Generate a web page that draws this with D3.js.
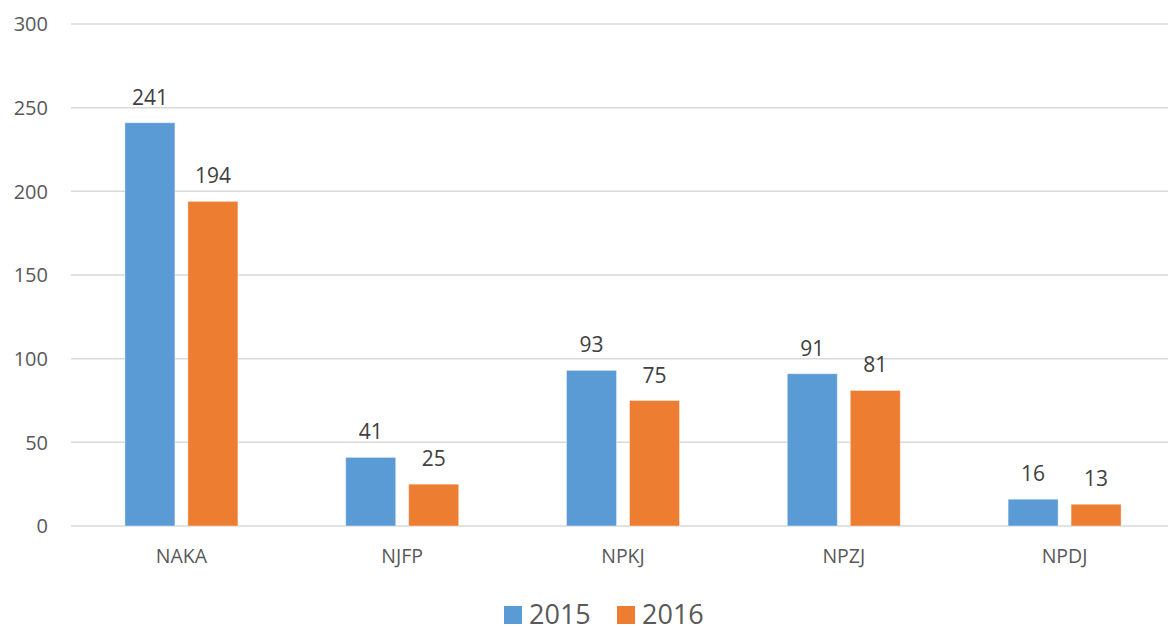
<!DOCTYPE html>
<html>
<head>
<meta charset="utf-8">
<script src="https://cdn.jsdelivr.net/npm/d3@7"></script>
<style>
  html, body { margin: 0; padding: 0; background: #fff; }
  svg { display: block; font-family: "Open Sans", sans-serif; }
</style>
</head>
<body>
<script>
// chart data
var categories = ["NAKA", "NJFP", "NPKJ", "NPZJ", "NPDJ"];
var seriesNames = ["2015", "2016"];
var values2015 = [241, 41, 93, 91, 16];
var values2016 = [194, 25, 75, 81, 13];
var yTicks = [0, 50, 100, 150, 200, 250, 300];
var colors = { "2015": "#5b9bd5", "2016": "#ed7d31" };

var width = 1168, height = 627;
// plot edges (note: "top" is a reserved window prop, so use other names)
var plotLeft = 71, plotRight = 1175, plotTop = 24, plotBottom = 526;

var svg = d3.select("body").append("svg")
    .attr("width", width)
    .attr("height", height);

var x0 = d3.scaleBand().domain(categories).range([plotLeft, plotRight]).padding(0);
// group of two bars takes about 113px of each 221px band
var groupW = 113;
var x1 = d3.scaleBand().domain(seriesNames).range([0, groupW]).paddingInner(0.206);
var y = d3.scaleLinear().domain([0, 300]).range([plotBottom, plotTop]);

// gridlines
svg.append("g").selectAll("line")
    .data(yTicks)
    .join("line")
    .attr("x1", plotLeft)
    .attr("x2", plotRight)
    .attr("y1", d => y(d))
    .attr("y2", d => y(d))
    .attr("stroke", "#d9d9d9")
    .attr("stroke-width", 1.5);

// y tick labels
svg.append("g").selectAll("text")
    .data(yTicks)
    .join("text")
    .attr("x", 48)
    .attr("y", d => y(d))
    .attr("dy", "0.36em")
    .attr("text-anchor", "end")
    .attr("fill", "#595959")
    .style("font-size", "20px")
    .text(d => d);

// x labels
svg.append("g").selectAll("text")
    .data(categories)
    .join("text")
    .attr("x", d => x0(d) + x0.bandwidth() / 2)
    .attr("y", 563)
    .attr("text-anchor", "middle")
    .attr("fill", "#595959")
    .style("font-size", "19.5px")
    .text(d => d);

var rows = [];
categories.forEach(function(c, i) {
    rows.push({ cat: c, key: "2015", value: values2015[i] });
    rows.push({ cat: c, key: "2016", value: values2016[i] });
});

function barX(d) {
    return x0(d.cat) + (x0.bandwidth() - groupW) / 2 + x1(d.key);
}

var bars = svg.append("g");
bars.selectAll("rect")
    .data(rows)
    .join("rect")
    .attr("x", barX)
    .attr("y", d => y(d.value))
    .attr("width", x1.bandwidth())
    .attr("height", d => plotBottom - y(d.value))
    .attr("fill", d => colors[d.key])
    .attr("stroke", "#ffffff")
    .attr("stroke-opacity", 0.4)
    .attr("stroke-width", 1);

bars.selectAll("text")
    .data(rows)
    .join("text")
    .attr("x", d => barX(d) + x1.bandwidth() / 2)
    .attr("y", d => y(d.value) - 18)
    .attr("text-anchor", "middle")
    .attr("fill", "#404040")
    .style("font-size", "21px")
    .text(d => d.value);

// legend
var legend = svg.append("g");
var legendX = [504, 617];
seriesNames.forEach(function(s, i) {
    legend.append("rect")
        .attr("x", legendX[i])
        .attr("y", 606)
        .attr("width", 18)
        .attr("height", 18)
        .attr("fill", colors[s]);
    legend.append("text")
        .attr("x", legendX[i] + 25)
        .attr("y", 624)
        .attr("fill", "#595959")
        .style("font-size", "27px")
        .text(s);
});
</script>
</body>
</html>
